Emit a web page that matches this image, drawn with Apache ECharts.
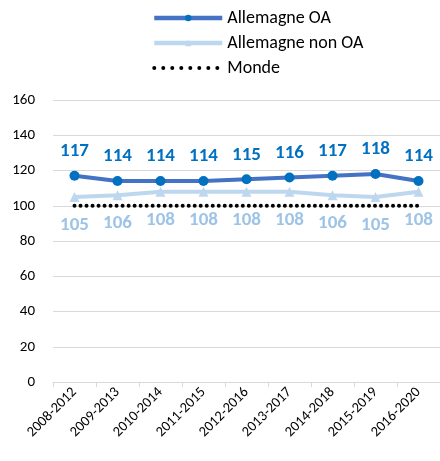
<!DOCTYPE html>
<html>
<head>
<meta charset="utf-8">
<script src="https://cdn.jsdelivr.net/npm/echarts@6/dist/echarts.min.js"></script>
<style>
html,body{margin:0;padding:0;background:#fff;}
#chart{width:440px;height:461px;}
</style>
</head>
<body>
<div id="chart"></div>
<script>
var periods = ["2008-2012","2009-2013","2010-2014","2011-2015","2012-2016","2013-2017","2014-2018","2015-2019","2016-2020"];
var allemagneOA = [117,114,114,114,115,116,117,118,114];
var allemagneNonOA = [105,106,108,108,108,108,106,105,108];
var monde = [100,100,100,100,100,100,100,100,100];
var yTicks = [0,20,40,60,80,100,120,140,160];

var font = "Carlito, Lato, sans-serif";
var chart = echarts.init(document.getElementById('chart'));
var option = {
    backgroundColor: '#fff',
    animation: false,
    textStyle: {fontFamily: font},
    legend: {
        orient: 'vertical',
        left: 152,
        top: 9,
        padding: 0,
        itemWidth: 68,
        itemHeight: 8,
        itemGap: 7,
        textStyle: {fontSize: 18, color: '#000', fontFamily: font},
        data: [
            {name: 'Allemagne OA', lineStyle: {width: 4.5}},
            {name: 'Allemagne non OA', lineStyle: {width: 4.5}},
            {name: 'Monde', itemStyle: {opacity: 0}, lineStyle: {width: 4, type: [0.01, 9]}}
        ]
    },
    grid: {left: 53, right: -3, top: 100, bottom: 79},
    xAxis: {
        type: 'category',
        data: periods,
        boundaryGap: true,
        axisLine: {lineStyle: {color: '#D9D9D9', width: 1}},
        axisTick: {show: true, length: 5, lineStyle: {color: '#D9D9D9'}},
        axisLabel: {rotate: 45, fontSize: 14.5, color: '#000', margin: 8, interval: 0, fontFamily: font}
    },
    yAxis: {
        type: 'value',
        min: yTicks[0],
        max: yTicks[yTicks.length - 1],
        interval: 20,
        axisLine: {show: false},
        axisTick: {show: false},
        axisLabel: {fontSize: 15, color: '#000', margin: 18, fontFamily: font},
        splitLine: {lineStyle: {color: '#D9D9D9', width: 1}}
    },
    series: [
        {
            name: 'Monde',
            type: 'line',
            data: monde,
            symbol: 'none',
            z: 1,
            lineStyle: {color: '#000', width: 4, type: [0.01, 6], cap: 'round'},
            itemStyle: {color: '#000'}
        },
        {
            name: 'Allemagne non OA',
            type: 'line',
            data: allemagneNonOA,
            symbol: 'triangle',
            symbolSize: 10,
            z: 2,
            lineStyle: {color: '#BDD7EE', width: 4},
            itemStyle: {color: '#BDD7EE'},
            label: {show: true, position: 'bottom', distance: 14, fontSize: 19, fontWeight: 'bold', color: '#9DC3E6', fontFamily: font}
        },
        {
            name: 'Allemagne OA',
            type: 'line',
            data: allemagneOA,
            symbol: 'circle',
            symbolSize: 10,
            z: 3,
            lineStyle: {color: '#4472C4', width: 4},
            itemStyle: {color: '#0070C0'},
            label: {show: true, position: 'top', distance: 10, fontSize: 19, fontWeight: 'bold', color: '#0070C0', fontFamily: font}
        }
    ]
};
chart.setOption(option);
window.onresize = function() {
    chart.resize();
};
</script>
</body>
</html>
